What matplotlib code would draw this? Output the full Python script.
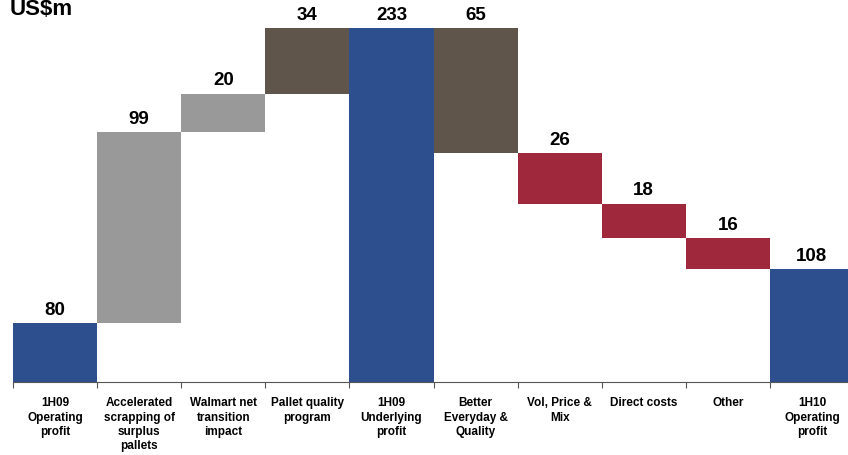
import matplotlib.pyplot as plt
import numpy as np

plt.rcParams['font.family'] = ['Liberation Sans', 'DejaVu Sans']

labels = ['1H09\nOperating\nprofit', 'Accelerated\nscrapping of\nsurplus\npallets',
          'Walmart net\ntransition\nimpact', 'Pallet quality\nprogram', '1H09\nUnderlying\nprofit',
          'Better\nEveryday &\nQuality', 'Vol, Price &\nMix', 'Direct costs', 'Other',
          '1H10\nOperating\nprofit']
changes = [80, 99, 20, 34, None, -65, -26, -18, -16, None]
kinds = ['total', 'up', 'up', 'up2', 'total', 'down2', 'down', 'down', 'down', 'total']

colors = {'total': '#2d4f8e', 'up': '#999999', 'up2': '#5f554b',
          'down2': '#5f554b', 'down': '#a0283c'}

# work out bottoms and heights of the floating bars
bottoms, heights, tops = [], [], []
running = 0
for c, k in zip(changes, kinds):
    if k == 'total':
        if c is not None:
            running = c
        bottoms.append(0)
        heights.append(running)
        tops.append(running)
    elif c > 0:
        bottoms.append(running)
        heights.append(c)
        running += c
        tops.append(running)
    else:
        running += c
        bottoms.append(running)
        heights.append(-c)
        tops.append(running - c)

fig = plt.figure(figsize=(8.48, 4.55), dpi=100)
ax = fig.add_axes([13 / 848, 1 - 382 / 455, 841 / 848, 382 / 455])

x = np.arange(len(labels))
ax.bar(x, heights, bottom=bottoms, width=1.0,
       color=[colors[k] for k in kinds], edgecolor='none')

for xi, t, h in zip(x, tops, heights):
    ax.annotate(f'{h:.0f}', (xi, t), xytext=(0, 3), textcoords='offset points',
                ha='center', va='bottom', fontsize=13.5, fontweight='bold')

ax.set_xlim(-0.5, len(labels) - 0.5)
ax.set_ylim(49.6, 247.5)

for s in ['top', 'right', 'left']:
    ax.spines[s].set_visible(False)
ax.spines['bottom'].set_color('#555555')
ax.set_yticks([])
ax.set_xticks(np.arange(len(labels) + 1) - 0.5)
ax.set_xticklabels([])
ax.tick_params(axis='x', length=4, color='#555555', direction='out')

for xi, lab in zip(x, labels):
    ax.text(xi, -0.04, lab, transform=ax.get_xaxis_transform(), ha='center', va='top',
            fontsize=8.5, fontweight='bold', linespacing=1.25)

fig.text(10 / 848, 1 - 15 / 455, 'US$m', fontsize=16, fontweight='bold', va='baseline')

plt.savefig('out.png', dpi=100)
